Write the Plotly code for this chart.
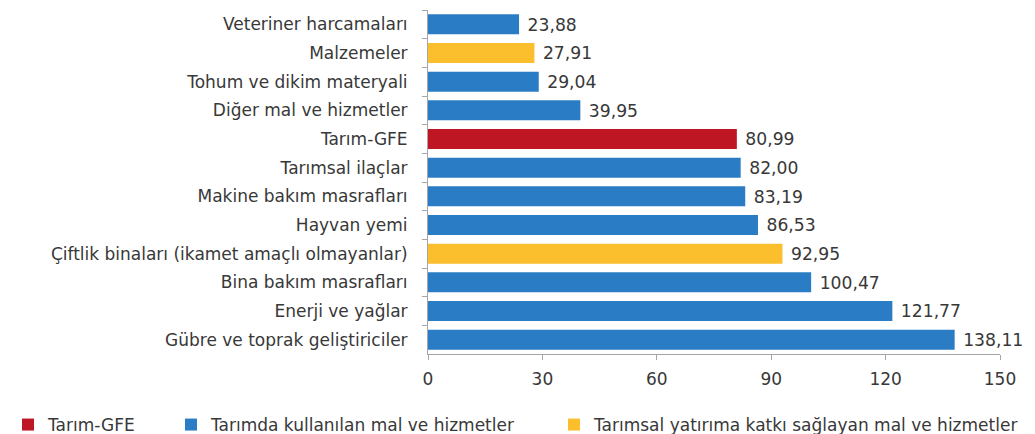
import plotly.graph_objects as go

categories = [
    "Veteriner harcamaları",
    "Malzemeler",
    "Tohum ve dikim materyali",
    "Diğer mal ve hizmetler",
    "Tarım-GFE",
    "Tarımsal ilaçlar",
    "Makine bakım masrafları",
    "Hayvan yemi",
    "Çiftlik binaları (ikamet amaçlı olmayanlar)",
    "Bina bakım masrafları",
    "Enerji ve yağlar",
    "Gübre ve toprak geliştiriciler",
]
values = [23.88, 27.91, 29.04, 39.95, 80.99, 82.00, 83.19, 86.53, 92.95, 100.47, 121.77, 138.11]
groups = ["b", "y", "b", "b", "r", "b", "b", "b", "y", "b", "b", "b"]

series_names = {
    "r": "Tarım-GFE",
    "b": "Tarımda kullanılan mal ve hizmetler",
    "y": "Tarımsal yatırıma katkı sağlayan mal ve hizmetler",
}
colors = {"r": "#BE1622", "b": "#2A7CC4", "y": "#FBBE2C"}
x_ticks = [0, 30, 60, 90, 120, 150]

FONT = "DejaVu Sans, Verdana, sans-serif"
TXT = "#383838"

legend_ids = {"r": "legend", "b": "legend2", "y": "legend3"}
legend_x = {"r": -8, "b": 163, "y": 546}

fig = go.Figure()
for g in ["r", "b", "y"]:
    cats = [c for c, gg in zip(categories, groups) if gg == g]
    vals = [v for v, gg in zip(values, groups) if gg == g]
    fig.add_trace(go.Bar(
        y=cats, x=vals, orientation="h", name=series_names[g],
        marker=dict(color=colors[g], line=dict(width=0)),
        text=["\u00a0" + f"{v:.2f}".replace(".", ",") for v in vals],
        textposition="outside", cliponaxis=False,
        textfont=dict(size=18, color=TXT, family=FONT),
        width=0.7,
        legend=legend_ids[g],
    ))

W, H = 1027, 426
leg_common = dict(orientation="h", xref="container", yref="container",
                  y=9 / H, yanchor="middle", xanchor="left",
                  font=dict(size=17, color=TXT, family=FONT),
                  bgcolor="rgba(0,0,0,0)")

fig.update_layout(
    width=W, height=H,
    barmode="overlay",
    plot_bgcolor="white", paper_bgcolor="white",
    font=dict(family=FONT, size=17, color=TXT),
    margin=dict(l=420, r=35, t=2, b=80),
    showlegend=True,
    legend=dict(x=legend_x["r"] / W, **leg_common),
    legend2=dict(x=legend_x["b"] / W, **leg_common),
    legend3=dict(x=legend_x["y"] / W, **leg_common),
    xaxis=dict(range=[0, 150], tickvals=x_ticks, showgrid=False, zeroline=False,
               showline=True, linecolor="#A6A6A6", linewidth=1,
               ticks="outside", ticklen=5, tickcolor="#A6A6A6",
               tickfont=dict(size=17, color=TXT), ticklabelstandoff=5,
               automargin=False),
    yaxis=dict(categoryorder="array", categoryarray=categories,
               autorange="reversed", showgrid=False, showline=True,
               linecolor="#A6A6A6", linewidth=1,
               ticks="outside", tickson="boundaries", ticklen=5, tickcolor="#A6A6A6",
               tickfont=dict(size=17, color=TXT), ticklabelstandoff=16,
               automargin=False),
)

fig.write_html("out.html")
